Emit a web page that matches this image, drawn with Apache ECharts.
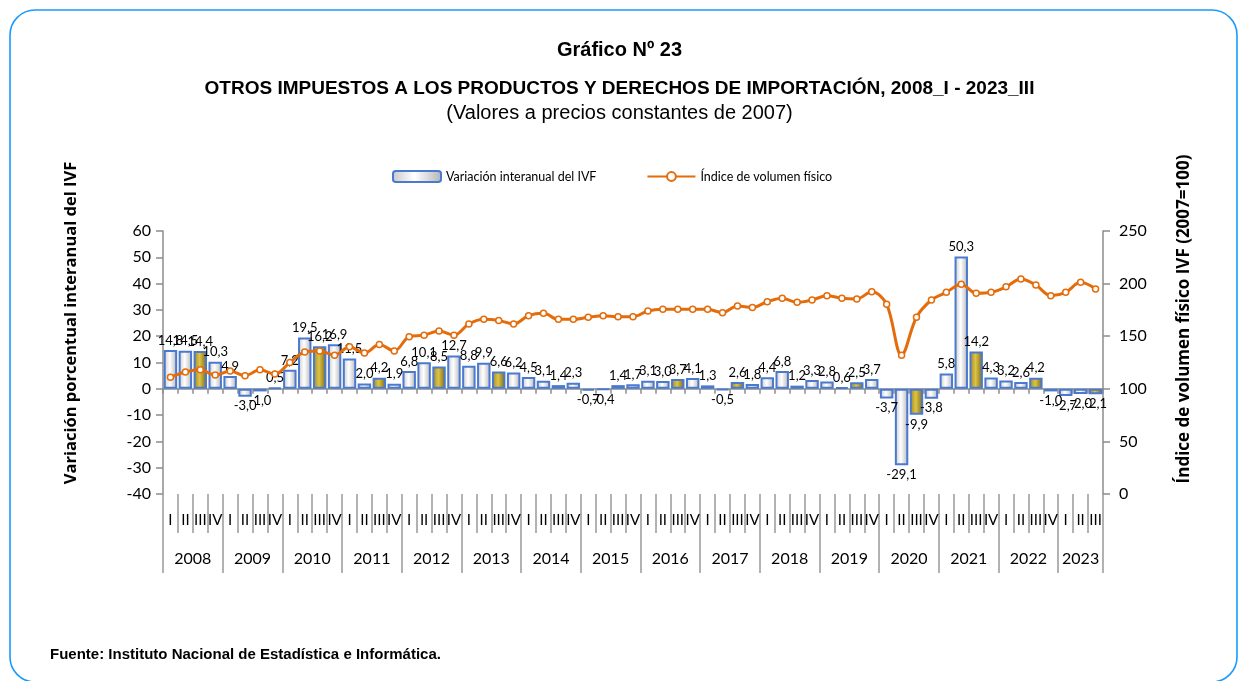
<!DOCTYPE html>
<html>
<head>
<meta charset="utf-8">
<script src="https://cdn.jsdelivr.net/npm/echarts@6/dist/echarts.min.js"></script>
<style>
html,body{margin:0;padding:0;background:#fff;}
#chart{width:1239px;height:681px;}
</style>
</head>
<body>
<div id="chart"></div>
<script>
// ---- data ----
const years = ['2008','2009','2010','2011','2012','2013','2014','2015','2016','2017','2018','2019','2020','2021','2022','2023'];
const quartersPerYear = [4,4,4,4,4,4,4,4,4,4,4,4,4,4,4,3];
const quarterLabels = ['I','II','III','IV'];
const variacion = [
  14.8,14.5,14.4,10.3,
  4.9,-3.0,-1.0,0.5,
  7.2,19.5,16.2,16.9,
  11.5,2.0,4.2,1.9,
  6.8,10.1,8.5,12.7,
  8.8,9.9,6.6,6.2,
  4.5,3.1,1.4,2.3,
  -0.7,-0.4,1.4,1.7,
  3.1,3.0,3.7,4.1,
  1.3,-0.5,2.6,1.8,
  4.4,6.8,1.2,3.3,
  2.8,0.6,2.5,3.7,
  -3.7,-29.1,-9.9,-3.8,
  5.8,50.3,14.2,4.3,
  3.2,2.6,4.2,-1.0,
  -2.7,-2.0,-2.1
];
const indice = [
  111,116,118,113,
  117,112.5,118,114,
  125,135,136,132,
  140,134,142,136,
  149.5,151,155,151,
  161.6,166,165,161.6,
  169.5,171.7,166,166,
  168,169.5,168.5,168.5,
  174,175.5,175.5,175.5,
  175.5,172.4,178.7,177.4,
  182.8,186,182.2,184.4,
  188.5,186,185.4,192.3,
  180.3,132,168,184.4,
  191.7,199.3,190.8,191.7,
  197,204.4,198.7,188.5,
  191.7,201.2,194.9
];
const leftTicks = {min:-40, max:60, interval:10};
const rightTicks = {min:0, max:250, interval:50};
const seriesNames = ['Variación interanual del IVF', 'Índice de volumen físico'];
const titleText = 'Gráfico Nº 23';
const subtitleText = 'OTROS IMPUESTOS A LOS PRODUCTOS Y DERECHOS DE IMPORTACIÓN, 2008_I - 2023_III';
const subtitle2Text = '(Valores a precios constantes de 2007)';
const leftAxisTitle = 'Variación porcentual interanual del IVF';
const rightAxisTitle = 'Índice de volumen físico IVF (2007=100)';
const sourceText = 'Fuente: Instituto Nacional de Estadística e Informática.';

// ---- build categories ----
const quarterCats = [];
const yearCats = [];
const yearLabelIdx = {};
years.forEach((y, yi) => {
  const n = quartersPerYear[yi];
  const start = quarterCats.length;
  for (let q = 0; q < n; q++) { quarterCats.push(quarterLabels[q]); yearCats.push(y); }
  yearLabelIdx[n % 2 === 0 ? start + n / 2 - 1 : start + (n - 1) / 2] = (n % 2 === 0);
});

const NARROW = "'Liberation Sans Narrow','Arial Narrow','Liberation Sans',Arial,sans-serif";
const CAL = "Lato,'Open Sans',sans-serif";
const fmt = v => v.toFixed(1).replace('.', ',');

const silver = new echarts.graphic.LinearGradient(0,0,1,0,[
  {offset:0,color:'#c8c8c8'},{offset:0.45,color:'#ffffff'},{offset:1,color:'#b4b4b4'}]);
const gold = new echarts.graphic.LinearGradient(0,0,1,0,[
  {offset:0,color:'#9c8420'},{offset:0.45,color:'#dcc448'},{offset:1,color:'#7a6410'}]);

const barData = variacion.map((v, i) => ({
  value: v,
  itemStyle: quarterCats[i] === 'III' ? {color: gold} : undefined,
  label: {position: v < 0 ? 'bottom' : 'top'}
}));

const chart = echarts.init(document.getElementById('chart'), null, {renderer:'canvas'});
const grid = {left:163, right:136, top:231, bottom:187};
const bandW = (1239 - grid.left - grid.right) / quarterCats.length;

chart.setOption({
  backgroundColor:'#fff',
  animation:false,
  title:[
    {text:titleText, left:'center', top:35, textStyle:{fontFamily:NARROW, fontWeight:'bold', fontSize:20, color:'#000'}},
    {text:subtitleText, left:'center', top:74, textStyle:{fontFamily:NARROW, fontWeight:'bold', fontSize:19, color:'#000'}},
    {text:subtitle2Text, left:'center', top:98, textStyle:{fontFamily:NARROW, fontWeight:'normal', fontSize:20, color:'#000'}},
    {text:sourceText, left:45, top:642, textStyle:{fontFamily:NARROW, fontWeight:'bold', fontSize:15, color:'#000'}}
  ],
  legend:{
    left:387, top:165, itemWidth:48, itemHeight:11, itemGap:50,
    textStyle:{fontFamily:CAL, fontSize:12.5, color:'#000'},
    data:seriesNames
  },
  grid:grid,
  graphic:[
    {type:'rect', shape:{x:10,y:10,width:1227,height:672,r:25}, style:{fill:'none', stroke:'#1a9bfc', lineWidth:1.6}, silent:true},
    {type:'text', x:71, y:323, rotation:Math.PI/2, style:{text:leftAxisTitle, fontFamily:"'Open Sans','DejaVu Sans',sans-serif", fontWeight:'bold', fontSize:16.5, fill:'#000', align:'center', verticalAlign:'middle'}},
    {type:'text', x:1184, y:319, rotation:Math.PI/2, style:{text:rightAxisTitle, fontFamily:"'Open Sans','DejaVu Sans',sans-serif", fontWeight:'bold', fontSize:17, fill:'#000', align:'center', verticalAlign:'middle'}}
  ],
  xAxis:[
    {type:'category', data:quarterCats, position:'bottom',
     axisLine:{onZero:true, onZeroAxisIndex:0, lineStyle:{color:'#8c8c8c', width:1.5}},
     axisTick:{show:true, interval:0, length:5, lineStyle:{color:'#8c8c8c', width:1.5}},
     axisLabel:{show:false}, splitLine:{show:false}},
    {type:'category', data:quarterCats, position:'bottom', offset:0,
     axisLine:{show:false, onZero:false},
     axisTick:{show:true, interval:0, length:39, lineStyle:{color:'#999', width:1.5}},
     axisLabel:{show:true, interval:0, margin:19, fontFamily:CAL, fontSize:15, color:'#000'},
     splitLine:{show:false}},
    {type:'category', data:yearCats, position:'bottom', offset:39,
     axisLine:{show:false, onZero:false},
     axisTick:{show:true, length:40, interval:(i) => i % 4 === 0, lineStyle:{color:'#999', width:1.5}},
     axisLabel:{show:true, margin:18, fontFamily:CAL, fontSize:16, color:'#000',
       interval:(i) => yearLabelIdx.hasOwnProperty(i),
       formatter:(v, i) => yearLabelIdx[i] ? '{e|' + v + '}' : '{o|' + v + '}',
       rich:{e:{padding:[0,0,0,bandW], fontFamily:CAL, fontSize:16, color:'#000'}, o:{fontFamily:CAL, fontSize:16, color:'#000'}}},
     splitLine:{show:false}}
  ],
  yAxis:[
    {type:'value', position:'left', min:leftTicks.min, max:leftTicks.max, interval:leftTicks.interval,
     axisLine:{show:true, lineStyle:{color:'#8c8c8c', width:1.5}},
     axisTick:{show:true, length:7, lineStyle:{color:'#8c8c8c', width:1.5}},
     axisLabel:{margin:12, fontFamily:CAL, fontSize:16, color:'#000'},
     splitLine:{show:false}},
    {type:'value', position:'right', min:rightTicks.min, max:rightTicks.max, interval:rightTicks.interval,
     axisLine:{show:true, lineStyle:{color:'#8c8c8c', width:1.5}},
     axisTick:{show:true, length:7, lineStyle:{color:'#8c8c8c', width:1.5}},
     axisLabel:{margin:16, fontFamily:CAL, fontSize:16, color:'#000'},
     splitLine:{show:false}}
  ],
  series:[
    {name:seriesNames[0], type:'bar', xAxisIndex:0, yAxisIndex:0, data:barData,
     barCategoryGap:'10%', z:2,
     itemStyle:{color:silver, borderColor:'#4a7ad0', borderWidth:2},
     label:{show:true, distance:3, formatter:p => fmt(p.value), fontFamily:CAL, fontSize:13, color:'#000'}},
    {name:seriesNames[1], type:'line', xAxisIndex:0, yAxisIndex:1, data:indice, z:3,
     smooth:0.35, symbol:'circle', symbolSize:6, showAllSymbol:true,
     lineStyle:{color:'#e46c0a', width:3},
     itemStyle:{color:'#ffffff', borderColor:'#e46c0a', borderWidth:1.5}}
  ]
});
</script>
</body>
</html>
